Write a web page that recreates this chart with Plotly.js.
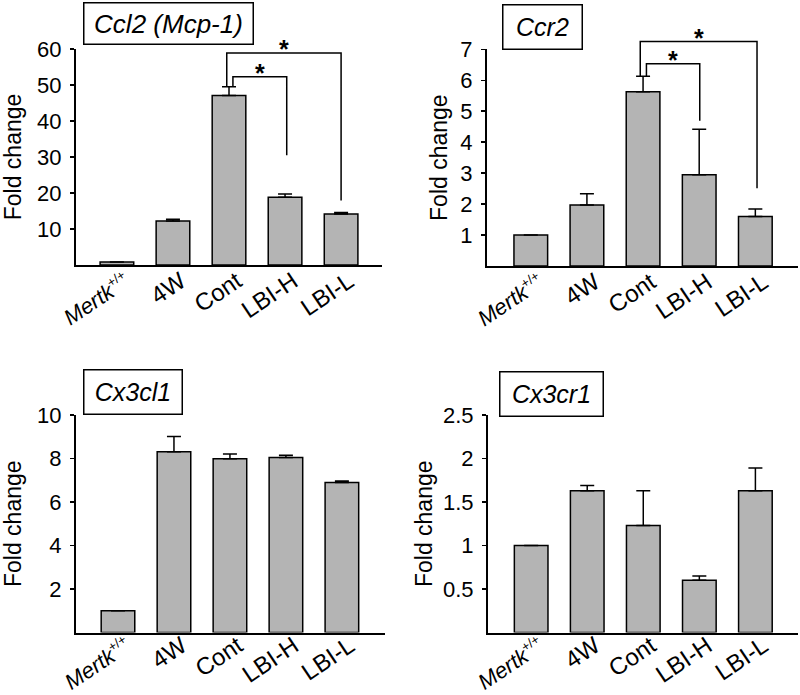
<!DOCTYPE html>
<html><head><meta charset="utf-8">
<script src="https://cdn.plot.ly/plotly-3.0.1.min.js"></script>
<style>html,body{margin:0;padding:0;background:#fff}#chart{width:800px;height:695px}</style>
</head><body><div id="chart"></div>
<script>
// ---- data ----
const categories = ['<i>Mertk</i><sup>+/+</sup>', '4W', 'Cont', 'LBI-H', 'LBI-L'];
const panelTitles = ['<i>Ccl2 (Mcp-1)</i>', '<i>Ccr2</i>', '<i>Cx3cl1</i>', '<i>Cx3cr1</i>'];

const ccl2Values = [0.8, 12.2, 47.1, 18.8, 14.2];
const ccl2Errors = [0, 0.5, 2.4, 0.9, 0.4];
const ccr2Values = [1.0, 1.97, 5.63, 2.95, 1.6];
const ccr2Errors = [0, 0.36, 0.5, 1.47, 0.24];
const cx3cl1Values = [1.0, 8.31, 7.99, 8.05, 6.9];
const cx3cl1Errors = [0, 0.7, 0.22, 0.1, 0.07];
const cx3cr1Values = [1.0, 1.63, 1.23, 0.6, 1.63];
const cx3cr1Errors = [0, 0.06, 0.4, 0.05, 0.26];

// significance brackets (data units)
const ccl2BracketLeft = [1.96, 2.07];
const ccl2BracketRight = [4.0, 3.03];
const ccl2BracketTop = [58.9, 52.3];
const ccl2BracketEnd = [17.9, 30.5];
const ccr2BracketLeft = [1.95, 2.06];
const ccr2BracketRight = [4.03, 3.01];
const ccr2BracketTop = [7.25, 6.53];
const ccr2BracketEnd = [2.51, 4.69];

const yTicks1 = [10, 20, 30, 40, 50, 60];
const yTicks2 = [1, 2, 3, 4, 5, 6, 7];
const yTicks3 = [2, 4, 6, 8, 10];
const yTicks4 = [0.5, 1, 1.5, 2, 2.5];

// ---- build ----
const FONT = 'Liberation Sans, Arial, sans-serif';
const idx = categories.map((c, i) => i);
const W = 800, H = 695;
const LABEL_SHIFT = 0.14;
const tickText = categories.map(c => c.includes('<sup>')
  ? '<span style="font-size:22px">' + c.replace(/<sup>(.*?)<\/sup>/, '<sup><span style="font-size:13px">$1</span></sup>') + '</span>'
  : c);

function barTrace(vals, errs, xa, ya) {
  return {
    type: 'bar', x: idx, y: vals, xaxis: xa, yaxis: ya, width: 0.6,
    marker: {color: '#b4b4b4', line: {color: '#000', width: 1.5}},
    error_y: {type: 'data', symmetric: false, array: errs, arrayminus: errs.map(() => 0),
              color: '#000', thickness: 1.5, width: 7},
    showlegend: false, hoverinfo: 'skip', cliponaxis: false
  };
}

function bracketTraces(vals, errs, L, R, T, E, xa, ya) {
  const base = vals[2] + errs[2];
  return L.map((l, i) => ({
    type: 'scatter', mode: 'lines', xaxis: xa, yaxis: ya,
    x: [l, l, R[i], R[i]], y: [base, T[i], T[i], E[i]],
    line: {color: '#000', width: 1.5}, cliponaxis: false,
    showlegend: false, hoverinfo: 'skip'
  }));
}

function starAnns(L, R, T, xa, ya) {
  return L.map((l, i) => ({
    xref: xa, yref: ya, x: (l + R[i]) / 2, y: T[i], text: '*', showarrow: false,
    yanchor: 'middle', xanchor: 'center', yshift: 4,
    font: {family: FONT, size: 25, color: '#000', weight: 'bold'}
  }));
}

const traces = [
  barTrace(ccl2Values, ccl2Errors, 'x', 'y'),
  barTrace(ccr2Values, ccr2Errors, 'x2', 'y2'),
  barTrace(cx3cl1Values, cx3cl1Errors, 'x3', 'y3'),
  barTrace(cx3cr1Values, cx3cr1Errors, 'x4', 'y4'),
  ...bracketTraces(ccl2Values, ccl2Errors, ccl2BracketLeft, ccl2BracketRight, ccl2BracketTop, ccl2BracketEnd, 'x', 'y5'),
  ...bracketTraces(ccr2Values, ccr2Errors, ccr2BracketLeft, ccr2BracketRight, ccr2BracketTop, ccr2BracketEnd, 'x2', 'y6')
];

function xax(x0, x1, r, anchor, standoff) {
  return {
    domain: [x0 / W, x1 / W], range: r, anchor: anchor,
    tickmode: 'array', tickvals: idx.map(i => i + LABEL_SHIFT), ticktext: tickText, tickangle: -34,
    showline: true, linecolor: '#000', linewidth: 2, ticks: '', zeroline: false,
    showgrid: false, tickfont: {family: FONT, size: 24, color: '#000'}, ticklabelstandoff: standoff,
    fixedrange: true
  };
}
function yax(yb, yt, r, tv, anchor, standoff) {
  return {
    domain: [1 - yb / H, 1 - yt / H], range: r, anchor: anchor,
    tickmode: 'array', tickvals: tv, ticktext: tv.map(String),
    showline: true, linecolor: '#000', linewidth: 2, ticks: 'outside', ticklen: 4,
    tickwidth: 1.5, tickcolor: '#000', zeroline: false, showgrid: false,
    tickfont: {family: FONT, size: 22, color: '#000'}, ticklabelstandoff: 4,
    title: {text: 'Fold change', font: {family: FONT, size: 23, color: '#000'}, standoff: standoff},
    fixedrange: true
  };
}
// invisible overlay axis with the same scale but a taller domain (so brackets above the range are not clipped)
function overlayY(base, anchor, extraPx) {
  const d = base.domain, r = base.range;
  const top = d[1] + extraPx / H;
  return {
    domain: [d[0], top], range: [r[0], r[1] * (top - d[0]) / (d[1] - d[0])],
    anchor: anchor, visible: false, fixedrange: true
  };
}

function titleBox(txt, cx, cy, w, h, fs) {
  return {
    xref: 'paper', yref: 'paper', x: cx / W, y: 1 - cy / H, xanchor: 'center', yanchor: 'middle',
    text: txt, showarrow: false, bordercolor: '#000', borderwidth: 1.5, borderpad: 0,
    width: w, height: h, bgcolor: '#fff', align: 'center',
    font: {family: FONT, size: fs, color: '#000'}
  };
}

const yaxis1 = yax(265, 49, [0, 60], yTicks1, 'x', 12);
const yaxis2 = yax(266, 49.3, [0, 7], yTicks2, 'x2', 6);

const layout = {
  width: W, height: H, margin: {l: 0, r: 0, t: 0, b: 0},
  paper_bgcolor: '#fff', plot_bgcolor: 'rgba(0,0,0,0)', showlegend: false,
  xaxis: xax(76, 382, [-0.73, 4.73], 'y', -9),
  yaxis: yaxis1,
  xaxis2: xax(487, 798, [-0.78, 4.76], 'y2', -9),
  yaxis2: yaxis2,
  xaxis3: xax(76, 385, [-0.75, 4.77], 'y3', -12),
  yaxis3: yax(632.5, 415, [0, 10], yTicks3, 'x3', 10),
  xaxis4: xax(488, 798, [-0.77, 4.76], 'y4', -12),
  yaxis4: yax(632.5, 415, [0, 2.5], yTicks4, 'x4', 4),
  yaxis5: overlayY(yaxis1, 'x', 30),
  yaxis6: overlayY(yaxis2, 'x2', 30),
  annotations: [
    titleBox(panelTitles[0], 168, 24, 168, 40, 26),
    titleBox(panelTitles[1], 542, 27.5, 78, 43, 25),
    titleBox(panelTitles[2], 132.5, 391.5, 97, 43, 25),
    titleBox(panelTitles[3], 551, 394.5, 102, 43, 25),
    ...starAnns(ccl2BracketLeft, ccl2BracketRight, ccl2BracketTop, 'x', 'y5'),
    ...starAnns(ccr2BracketLeft, ccr2BracketRight, ccr2BracketTop, 'x2', 'y6')
  ]
};

Plotly.newPlot('chart', traces, layout, {displayModeBar: false, staticPlot: true});
</script>
</body></html>
